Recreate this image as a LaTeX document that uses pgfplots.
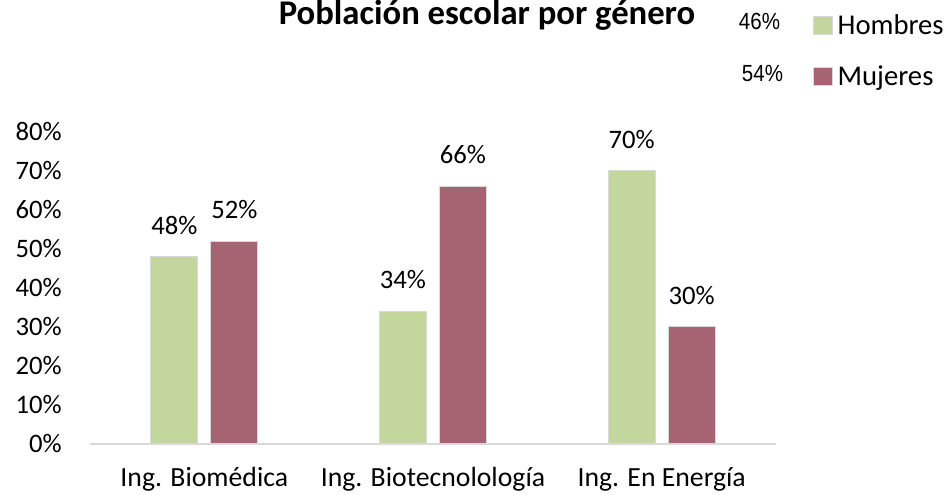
\documentclass[border=0pt]{standalone}
\usepackage{pgfplots}
\pgfplotsset{compat=1.18}
\usepackage{fontspec}
\setmainfont{Carlito}
\newfontfamily\narrowfont[FakeStretch=0.88]{Liberation Sans}
\definecolor{hgreen}{RGB}{195,214,155}
\definecolor{mred}{RGB}{166,99,114}
\definecolor{edgegray}{RGB}{217,217,217}
\begin{document}
\begin{tikzpicture}
\path[use as bounding box] (0pt,0pt) rectangle (711pt,371.25pt);
\begin{axis}[
  at={(67.5pt,38.25pt)}, anchor=south west,
  scale only axis,
  width=514.5pt, height=234pt,
  xmin=-0.5, xmax=2.5, ymin=0, ymax=80,
  xtick={0,1,2},
  xticklabels={Ing. Biomédica, Ing. Biotecnolología, Ing. En Energía},
  ytick={0,10,...,80},
  yticklabel={\pgfmathprintnumber{\tick}\%},
  /pgf/number format/assume math mode=true,
  axis x line*=bottom, axis y line*=left,
  x axis line style={draw=edgegray, line width=1pt},
  y axis line style={draw=none},
  major tick length=0pt,
  yticklabel style={font=\fontsize{20}{24}\selectfont, anchor=east, inner sep=0pt, xshift=-21pt},
  xticklabel style={font=\fontsize{20.8}{25}\selectfont, anchor=north, inner sep=0pt, yshift=-17.5pt},
  clip=false,
  legend style={at={(1.054,1.3846)}, anchor=north west, draw=none, fill=none,
    font=\fontsize{21.5}{25}\selectfont, row sep=17.5pt, inner sep=0pt,
    cells={anchor=west}},
  legend image code/.code={\fill[#1] (0pt,-6.75pt) rectangle (14pt,6.75pt); \path (15.5pt,0pt);},
  nodes near coords={\pgfmathprintnumber{\pgfplotspointmeta}\%},
  nodes near coords style={font=\fontsize{20}{24}\selectfont, inner sep=0pt, anchor=south, yshift=16.5pt},
]
\addplot[ybar, bar width=35.25pt, bar shift=-22.5pt, fill=hgreen, draw=edgegray, line width=0.75pt,
  every node near coord/.append style={xshift=-22.5pt}]
  coordinates {(0,48) (1,34) (2,70)};
\addlegendentry{Hombres}
\addplot[ybar, bar width=35.25pt, bar shift=22.5pt, fill=mred, draw=edgegray, line width=0.75pt,
  every node near coord/.append style={xshift=22.5pt}]
  coordinates {(0,52) (1,66) (2,30)};
\addlegendentry{Mujeres}
\end{axis}
\node[font=\bfseries\fontsize{26}{30}\selectfont, anchor=base] at (365.25pt,352.5pt) {Población escolar por género};
\node[font=\narrowfont\fontsize{17.5}{21}\selectfont, anchor=base] at (569.6pt,348.75pt) {46\%};
\node[font=\narrowfont\fontsize{17.5}{21}\selectfont, anchor=base] at (571.9pt,309.75pt) {54\%};
\end{tikzpicture}
\end{document}
